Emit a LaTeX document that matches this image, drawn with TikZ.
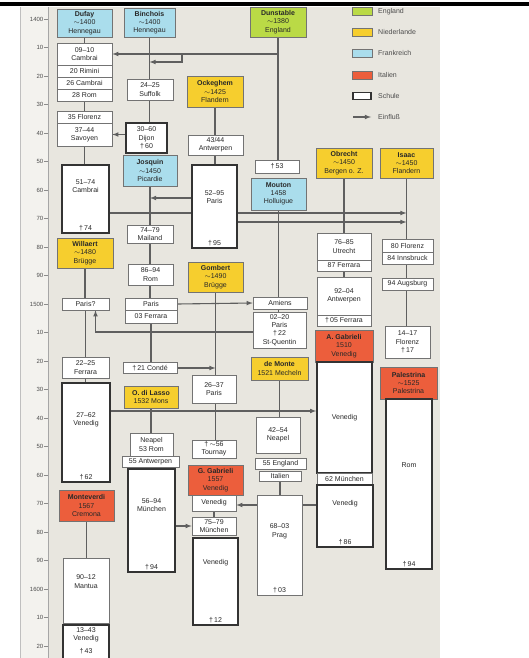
\documentclass[tikz,border=0pt]{standalone}
\usepackage{fontspec}
\setmainfont{Liberation Sans}
\usepackage{tikz}
\usetikzlibrary{calc}
\definecolor{nlyellow}{RGB}{246,206,46}
\definecolor{frblue}{RGB}{170,221,236}
\definecolor{engreen}{RGB}{186,218,70}
\definecolor{itred}{RGB}{236,94,60}
\definecolor{paper}{RGB}{232,230,223}
\definecolor{strip}{RGB}{243,242,238}
\definecolor{linegray}{RGB}{95,95,95}
\definecolor{ink}{RGB}{40,40,40}
\pgfdeclarelayer{back}
\pgfdeclarelayer{lines}
\pgfsetlayers{back,lines,main}

\begin{document}
\begin{tikzpicture}[x=1pt, y=-1pt,
    box/.style={draw=black!55, line width=0.6pt, fill=white, inner sep=0pt, align=center,
      font=\fontsize{7}{8.3}\selectfont, text=ink},
    nl/.style={box, fill=nlyellow},
    fr/.style={box, fill=frblue},
    en/.style={box, fill=engreen},
    it/.style={box, fill=itred},
    school/.style={box, draw=black!80, line width=1.6pt},
    tx/.style={anchor=north, yshift=-#1, align=center, inner sep=0pt,
      font=\fontsize{7}{8.3}\selectfont, text=ink},
    dg/.style={anchor=south, inner sep=2.5pt, font=\fontsize{7}{8.3}\selectfont, text=ink},
    yrlab/.style={anchor=east, inner sep=0pt, font=\fontsize{6}{6}\selectfont, text=black!70},
    lg/.style={anchor=west, inner sep=0pt, font=\fontsize{7}{7}\selectfont, text=black!70},
    conn/.style={draw=linegray, line width=1.1pt},
    infl/.style={conn, -latex}]
  \useasboundingbox (0,0) rectangle (529,658);

  \begin{pgfonlayer}{back}
    \fill[paper] (48,7) rectangle (440,658);
    \fill[strip] (20,7) rectangle (48,658);
    \draw[black!25, line width=0.5pt] (20,7) -- (20,658);
    \draw[black!35, line width=0.6pt] (48,7) -- (48,658);
    \fill[black] (0,2.5) rectangle (529,6);
  \end{pgfonlayer}

  % year scale
  \foreach \i/\lab in {0/1400,1/10,2/20,3/30,4/40,5/50,6/60,7/70,8/80,9/90,10/1500,
      11/10,12/20,13/30,14/40,15/50,16/60,17/70,18/80,19/90,20/1600,21/10,22/20}{
    \draw[black!45, line width=0.5pt] (44,{19+28.5*\i}) -- (48,{19+28.5*\i});
    \node[yrlab] (yr\i) at (43.5,{19+28.5*\i}) {\lab};
  }

  % legend
  \node[en, minimum width=20, minimum height=8] (legEN) at (362,11.5) {};
  \node[lg] (legENt) at (378,11.5) {England};
  \node[nl, minimum width=20, minimum height=8] (legNL) at (362,32) {};
  \node[lg] (legNLt) at (378,32) {Niederlande};
  \node[fr, minimum width=20, minimum height=8] (legFR) at (362,53) {};
  \node[lg] (legFRt) at (378,53) {Frankreich};
  \node[it, minimum width=20, minimum height=8] (legIT) at (362,75) {};
  \node[lg] (legITt) at (378,75) {Italien};
  \node[school, line width=1.4pt, minimum width=18, minimum height=7] (legSC) at (362,96) {};
  \node[lg] (legSCt) at (378,96) {Schule};
  \coordinate (legA1) at (353,117);
  \coordinate (legA2) at (371,117);
  \draw[infl] (legA1) -- (legA2);
  \node[lg] (legAt) at (378,117) {Einfluß};

  % Dufay, Willaert, Monteverdi
  \node[fr, minimum width=55, minimum height=28] (dufay) at (84.5,23) {\textbf{Dufay}\\$\sim$1400\\Hennegau};
  \node[box, minimum width=55, minimum height=22] (cambraiA) at (84.5,54) {09--10\\Cambrai};
  \node[box, minimum width=55, minimum height=12] (rimini) at (84.5,71) {20 Rimini};
  \node[box, minimum width=55, minimum height=12] (cambraiC) at (84.5,83) {26 Cambrai};
  \node[box, minimum width=55, minimum height=12] (romD) at (84.5,95) {28 Rom};
  \node[box, minimum width=55, minimum height=12] (florenzD) at (84.5,117) {35 Florenz};
  \node[box, minimum width=55, minimum height=23] (savoyen) at (84.5,134.5) {37--44\\Savoyen};
  \node[school, minimum width=47, minimum height=68, label={[tx=15]north:51--74\\Cambrai},
    label={[dg]south:\textdagger\,74}] (cambraiB) at (85.5,199) {};
  \node[nl, minimum width=56, minimum height=30] (willaert) at (85,253) {\textbf{Willaert}\\$\sim$1480\\Brügge};
  \node[box, minimum width=47, minimum height=12] (parisW) at (85.5,304) {Paris?};
  \node[box, minimum width=47, minimum height=21] (ferraraW) at (85.5,367.5) {22--25\\Ferrara};
  \node[school, minimum width=48, minimum height=99, label={[tx=30]north:27--62\\Venedig},
    label={[dg]south:\textdagger\,62}] (venedigW) at (86,432.5) {};
  \node[it, minimum width=55, minimum height=31] (monteverdi) at (86.5,505.5) {\textbf{Monteverdi}\\1567\\Cremona};
  \node[box, minimum width=46, minimum height=65, label={[tx=17]north:90--12\\Mantua}] (mantua) at (86,590.5) {};
  \node[school, minimum width=46, minimum height=36, label={[tx=3]north:13--43\\Venedig},
    label={[dg, yshift=5pt]south:\textdagger\,43}] (venedigM) at (86,643) {};

  % Binchois, Josquin, Lasso
  \node[fr, minimum width=51, minimum height=29] (binchois) at (149.5,22.5) {\textbf{Binchois}\\$\sim$1400\\Hennegau};
  \node[box, minimum width=46, minimum height=21] (suffolk) at (150,89.5) {24--25\\Suffolk};
  \node[school, minimum width=41, minimum height=30] (dijon) at (146.5,138) {30--60\\Dijon\\\textdagger\,60};
  \node[fr, minimum width=54, minimum height=31] (josquin) at (150,170.5) {\textbf{Josquin}\\$\sim$1450\\Picardie};
  \node[box, minimum width=46, minimum height=18] (mailand) at (150,234) {74--79\\Mailand};
  \node[box, minimum width=45, minimum height=21] (romJ) at (150.5,274.5) {86--94\\Rom};
  \node[box, minimum width=52, minimum height=12] (parisJ) at (151,304) {Paris};
  \node[box, minimum width=52, minimum height=13] (ferraraJ) at (151,316.5) {03 Ferrara};
  \node[box, minimum width=54, minimum height=11] (conde) at (150,368) {\textdagger\,21 Condé};
  \node[nl, minimum width=54, minimum height=22] (lasso) at (151,397) {\textbf{O. di Lasso}\\1532 Mons};
  \node[box, minimum width=43, minimum height=23] (neapelL) at (151.5,444.5) {Neapel\\53 Rom};
  \node[box, minimum width=57, minimum height=11] (antwerpenL) at (150.5,462) {55 Antwerpen};
  \node[school, minimum width=47, minimum height=103, label={[tx=30]north:56--94\\München},
    label={[dg]south:\textdagger\,94}] (muenchenL) at (151.5,520.5) {};

  % Ockeghem, Gombert, G. Gabrieli
  \node[nl, minimum width=56, minimum height=31] (ockeghem) at (215,91.5) {\textbf{Ockeghem}\\$\sim$1425\\Flandern};
  \node[box, minimum width=55, minimum height=20] (antwerpenO) at (215.5,145) {43/44\\Antwerpen};
  \node[school, minimum width=45, minimum height=83, label={[tx=26]north:52--95\\Paris},
    label={[dg]south:\textdagger\,95}] (parisO) at (214.5,206.5) {};
  \node[nl, minimum width=55, minimum height=30] (gombert) at (215.5,277) {\textbf{Gombert}\\$\sim$1490\\Brügge};
  \node[box, minimum width=44, minimum height=28] (parisG) at (214,389) {26--37\\Paris};
  \node[box, minimum width=44, minimum height=18] (tournay) at (214,449) {\textdagger\,$\sim$56\\Tournay};
  \node[it, minimum width=55, minimum height=30] (ggabrieli) at (215.5,480) {\textbf{G. Gabrieli}\\1557\\Venedig};
  \node[box, minimum width=44, minimum height=16] (venedigG) at (214,503) {Venedig};
  \node[box, minimum width=44, minimum height=18] (muenchenG) at (214,526) {75--79\\München};
  \node[school, minimum width=45, minimum height=87, label={[tx=22]north:Venedig},
    label={[dg]south:\textdagger\,12}] (venedigG2) at (215.5,581.5) {};

  % Dunstable, Mouton, de Monte
  \node[en, minimum width=56, minimum height=30] (dunstable) at (278,22) {\textbf{Dunstable}\\$\sim$1380\\England};
  \node[box, minimum width=44, minimum height=13] (dunstableD) at (277,166.5) {\textdagger\,53};
  \node[fr, minimum width=55, minimum height=32] (mouton) at (278.5,194) {\textbf{Mouton}\\1458\\Holluigue};
  \node[box, minimum width=54, minimum height=12] (amiens) at (280,303) {Amiens};
  \node[box, minimum width=53, minimum height=36] (parisM) at (279.5,330) {02--20\\Paris\\\textdagger\,22\\St-Quentin};
  \node[nl, minimum width=57, minimum height=23] (demonte) at (279.5,368.5) {\textbf{de Monte}\\1521 Mecheln};
  \node[box, minimum width=44, minimum height=36] (neapelM) at (278,435) {42--54\\Neapel};
  \node[box, minimum width=51, minimum height=11] (england) at (280.5,463.5) {55 England};
  \node[box, minimum width=42, minimum height=10] (italien) at (280,476) {Italien};
  \node[box, minimum width=45, minimum height=100, label={[tx=29]north:68--03\\Prag},
    label={[dg]south:\textdagger\,03}] (prag) at (279.5,545) {};

  % Obrecht, A. Gabrieli
  \node[nl, minimum width=56, minimum height=30] (obrecht) at (344,163) {\textbf{Obrecht}\\$\sim$1450\\Bergen o. Z.};
  \node[box, minimum width=54, minimum height=27] (utrecht) at (344,246.5) {76--85\\Utrecht};
  \node[box, minimum width=54, minimum height=11] (ferraraO) at (344,265.5) {87 Ferrara};
  \node[box, minimum width=54, minimum height=38] (antwerpenO2) at (344,296) {92--04\\Antwerpen};
  \node[box, minimum width=54, minimum height=11] (ferraraO2) at (344,320.5) {\textdagger\,05 Ferrara};
  \node[it, minimum width=58, minimum height=32] (agabrieli) at (344,346) {\textbf{A. Gabrieli}\\1510\\Venedig};
  \node[school, minimum width=55, minimum height=111] (venedigA) at (344.5,417.5) {Venedig};
  \node[box, minimum width=55, minimum height=12] (muenchenA) at (344.5,479) {62 München};
  \node[school, minimum width=56, minimum height=62, label={[tx=16]north:Venedig},
    label={[dg]south:\textdagger\,86}] (venedigA2) at (345,516) {};

  % Isaac, Palestrina
  \node[nl, minimum width=53, minimum height=30] (isaac) at (406.5,163) {\textbf{Isaac}\\$\sim$1450\\Flandern};
  \node[box, minimum width=51, minimum height=13] (florenzI) at (407.5,245.5) {80 Florenz};
  \node[box, minimum width=51, minimum height=12] (innsbruck) at (407.5,258) {84 Innsbruck};
  \node[box, minimum width=51, minimum height=12] (augsburg) at (407.5,284) {94 Augsburg};
  \node[box, minimum width=45, minimum height=32] (florenzI2) at (407.5,342) {14--17\\Florenz\\\textdagger\,17};
  \node[it, minimum width=57, minimum height=32] (palestrina) at (408.5,383) {\textbf{Palestrina}\\$\sim$1525\\Palestrina};
  \node[school, minimum width=46, minimum height=170, label={[tx=64]north:Rom},
    label={[dg]south:\textdagger\,94}] (romP) at (409,484) {};

  \begin{pgfonlayer}{lines}
    % life lines
    \draw[conn] (dufay.south) -- (cambraiA.north);
    \draw[conn] (romD.south) -- (florenzD.north);
    \draw[conn] (savoyen.south) -- (savoyen.south |- cambraiB.north);
    \draw[conn] (willaert.south) -- (willaert.south |- parisW.north);
    \draw[conn] (parisW.south) -- (ferraraW.north);
    \draw[conn] (ferraraW.south) -- (ferraraW.south |- venedigW.north);
    \draw[conn] (monteverdi.south) -- (monteverdi.south |- mantua.north);
    \draw[conn] (binchois.south) -- (binchois.south |- dijon.north);
    \draw[conn] (josquin.south) -- (josquin.south |- parisJ.north);
    \draw[conn] (ferraraJ.south) -- (ferraraJ.south |- conde.north);
    \draw[conn] (lasso.south) -- (lasso.south |- neapelL.north);
    \draw[conn] (ockeghem.south) -- (ockeghem.south |- parisO.north);
    \draw[conn] (gombert.south) -- (gombert.south |- tournay.north);
    \draw[conn] (venedigG.south) -- (venedigG.south |- muenchenG.north);
    \draw[conn] (dunstable.south) -- (dunstable.south |- dunstableD.north);
    \draw[conn] (mouton.south) -- (mouton.south |- parisM.north);
    \draw[conn] (demonte.south) -- (demonte.south |- neapelM.north);
    \draw[conn] (italien.south) -- (italien.south |- prag.north);
    \draw[conn] (obrecht.south) -- (obrecht.south |- utrecht.north);
    \draw[conn] (ferraraO.south) -- (ferraraO.south |- antwerpenO2.north);
    \draw[conn] (isaac.south) -- (isaac.south |- florenzI2.north);

    % influences
    \draw[infl] (dunstable.south |- cambraiA.east) -- (cambraiA.east);
    \coordinate (jog) at (182,54);
    \coordinate (binIn) at (binchois.south |- 0,62);
    \draw[infl] (jog) |- (binIn);
    \draw[infl] (dijon.west |- savoyen.east) -- (savoyen.east);
    \draw[infl] (parisO.west |- 0,198) -- (josquin.south |- 0,198);
    \draw[infl] (cambraiB.east |- 0,213) -- (isaac.south |- 0,213);
    \draw[infl] (parisO.east |- 0,222) -- (isaac.south |- 0,222);
    \draw[infl] (parisJ.east) -- (amiens.west);
    \draw[infl] (parisM.west |- 0,332) -| ([xshift=10pt]parisW.south);
    \draw[infl] (conde.east) -- (gombert.south |- conde.east);
    \draw[infl] (venedigW.east |- 0,411) -- (venedigA.west |- 0,411);
    \draw[infl] (venedigA2.west |- 0,505) -- (venedigG.east |- 0,505);
    \draw[infl] (muenchenL.east |- muenchenG.west) -- (muenchenG.west);
  \end{pgfonlayer}
\end{tikzpicture}
\end{document}
